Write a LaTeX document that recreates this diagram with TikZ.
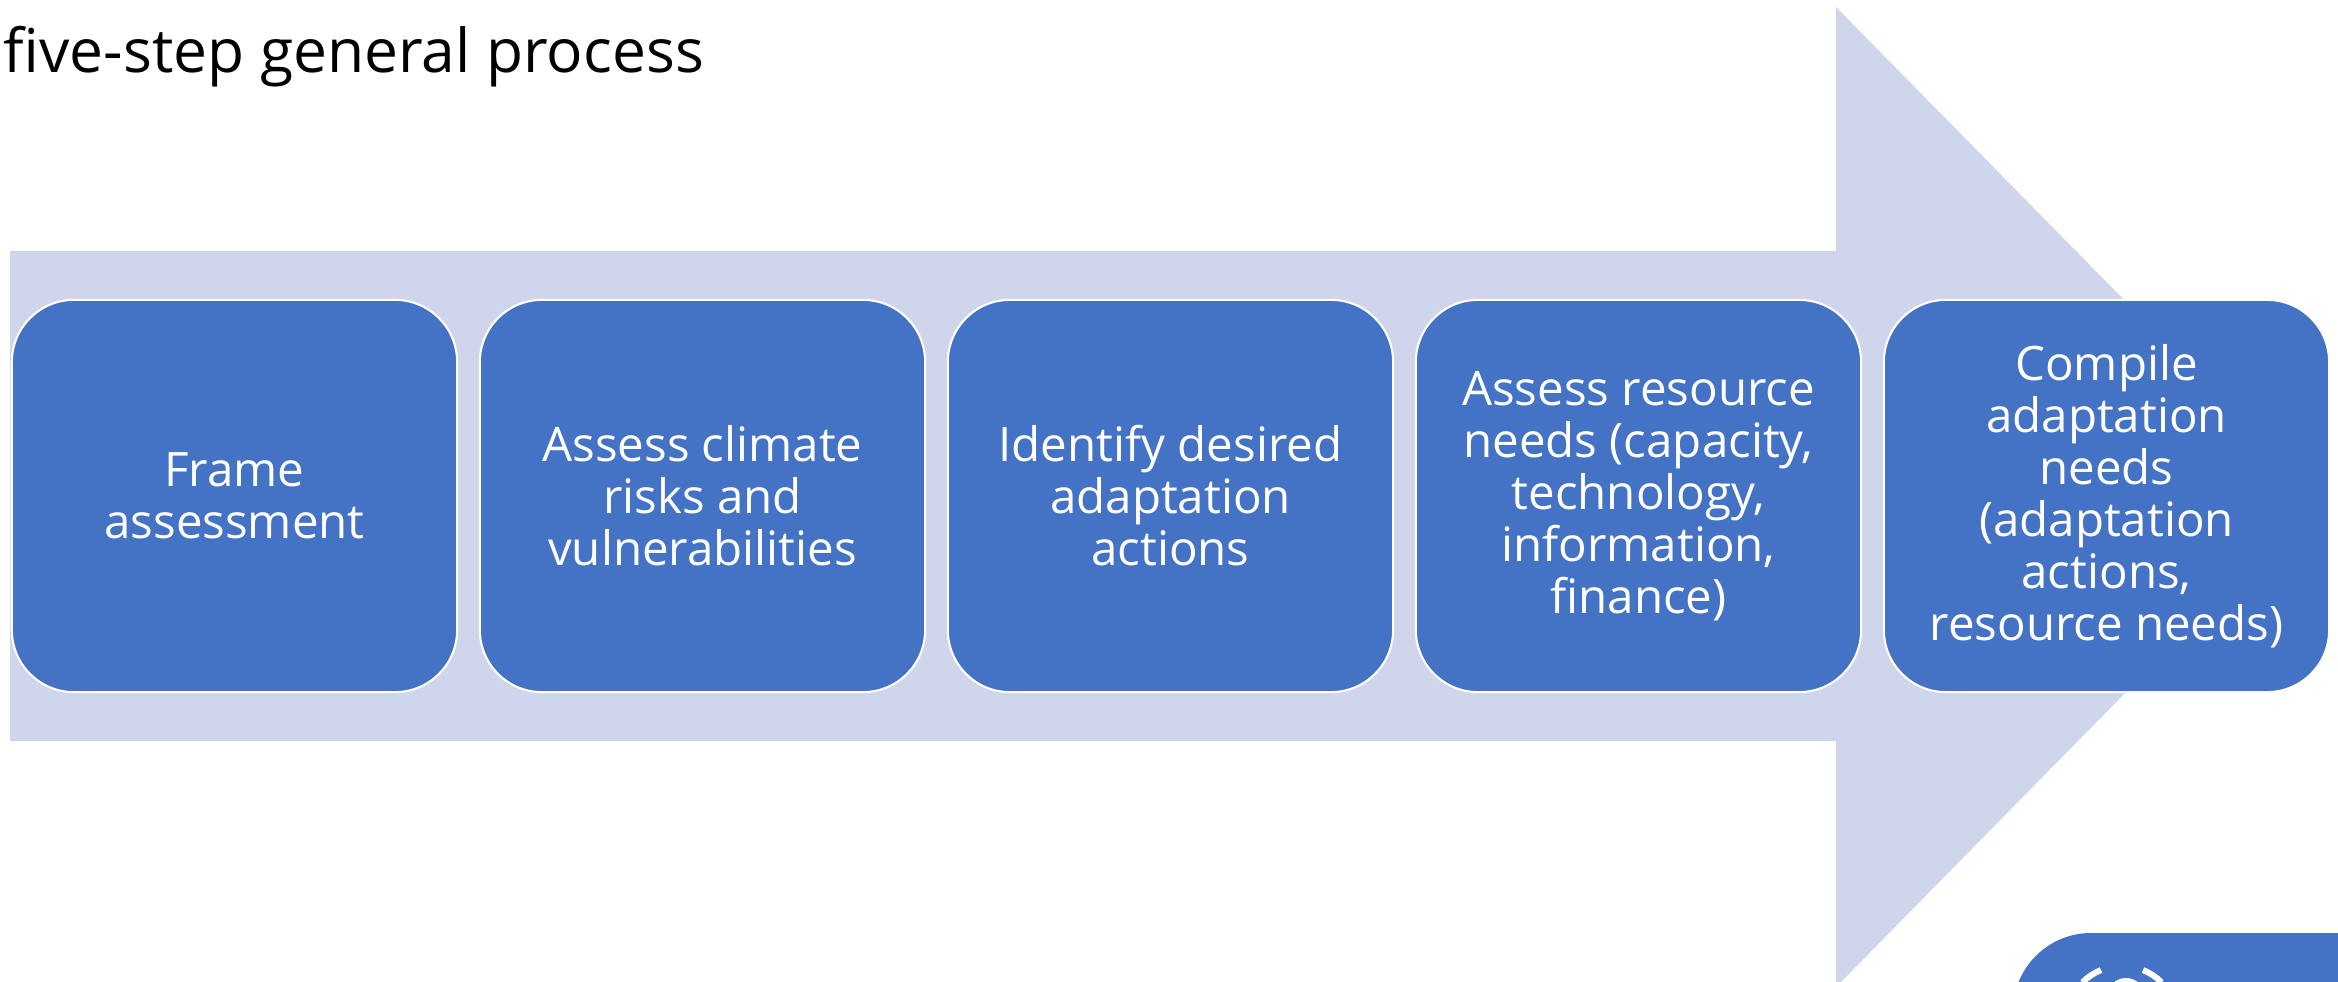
\documentclass[tikz,border=0pt]{standalone}
\usepackage{fontspec}
\setmainfont{Open Sans}
\definecolor{stepblue}{RGB}{68,114,196}
\definecolor{arrowtint}{RGB}{207,213,234}
\begin{document}
\begin{tikzpicture}[x=0.01cm,y=-0.01cm,
		stepbox/.style={draw=white,line width=0.6pt,fill=stepblue,rounded corners=0.62cm,
			minimum width=4.45cm,minimum height=3.92cm,inner sep=0pt,
			text=white,align=center,font=\fontsize{13.5}{14.8}\selectfont}]
			\useasboundingbox (0,0) rectangle (2338,982);
			% big background arrow
			\fill[arrowtint] (10,251) -- (1836,251) -- (1836,7) -- (2318,497) -- (1836,987) -- (1836,741) -- (10,741) -- cycle;
			%
			\node[anchor=base west,inner sep=0pt,font=\fontsize{17.2}{20}\selectfont] (title) at (3,73) {five-step general process};
			%
			\node[stepbox] (s1) at (234.5, 496)	{Frame\\assessment};
			\node[stepbox] (s2) at (702.5, 496)	{Assess climate\\risks and\\vulnerabilities};
			\node[stepbox] (s3) at (1170.5,496)	{Identify desired\\adaptation\\actions};
			\node[stepbox] (s4) at (1638.5,496)	{Assess resource\\needs (capacity,\\technology,\\information,\\finance)};
			\node[stepbox] (s5) at (2106.5,496)	{Compile\\adaptation\\needs\\(adaptation\\actions,\\resource needs)};
			%
			% button cut off at the bottom right
			\fill[stepblue,rounded corners=0.78cm] (2013,933) rectangle (2500,1150);
			\coordinate (ic) at (2122,1022);
			\fill[white] (2126,997) circle (0.19cm);
			\draw[white,line width=0.06cm] ([shift={(135:0.56cm)}]ic) arc[start angle=135,end angle=112,radius=0.56cm];
			\draw[white,line width=0.06cm] ([shift={(45:0.56cm)}]ic) arc[start angle=45,end angle=68,radius=0.56cm];
		\end{tikzpicture}
\end{document}
